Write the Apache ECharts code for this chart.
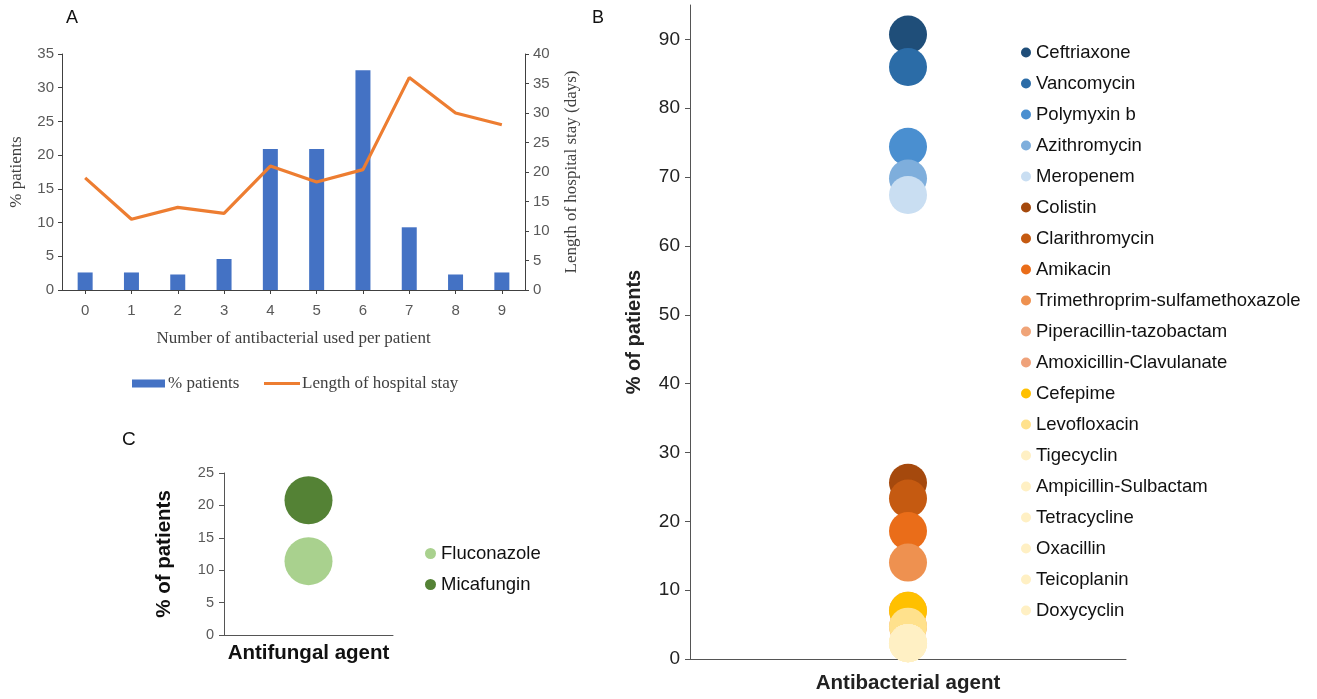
<!DOCTYPE html>
<html>
<head>
<meta charset="utf-8">
<script src="https://cdn.jsdelivr.net/npm/echarts@6/dist/echarts.min.js"></script>
<style>
html,body{margin:0;padding:0;background:#fff;}
#chart{width:1317px;height:699px;}
</style>
</head>
<body>
<div id="chart"></div>
<script>
// Panel A data
const aCategories = ['0','1','2','3','4','5','6','7','8','9'];
const aPatients = [2.6, 2.6, 2.3, 4.6, 20.9, 20.9, 32.6, 9.3, 2.3, 2.6];
const aStay = [19, 12, 14, 13, 21, 18.3, 20.4, 36, 30, 28];
const aLeftTicks = [0, 35, 5];
const aRightTicks = [0, 40, 5];

// Panel B data
const bNames = ['Ceftriaxone','Vancomycin','Polymyxin b','Azithromycin','Meropenem','Colistin','Clarithromycin','Amikacin','Trimethroprim-sulfamethoxazole','Piperacillin-tazobactam','Amoxicillin-Clavulanate','Cefepime','Levofloxacin','Tigecyclin','Ampicillin-Sulbactam','Tetracycline','Oxacillin','Teicoplanin','Doxycyclin'];
const bValues = [90.7, 86.0, 74.4, 69.8, 67.4, 25.6, 23.3, 18.6, 14.0, 7.0, 4.7, 7.0, 4.7, 2.3, 2.3, 2.3, 2.3, 2.3, 2.3];
const bColors = ['#1F4E79','#2B6CA7','#4A8FD0','#7EAEDC','#C9DEF2','#A5490D','#C55A11','#EA6D19','#EE9150','#F0A478','#EFA27A','#FFC000','#FFE18C','#FFF0C4','#FFF0C4','#FFF0C4','#FFF0C4','#FFF0C4','#FFF0C4'];
const bTickValues = [0,10,20,30,40,50,60,70,80,90];

// Panel C data
const cNames = ['Fluconazole','Micafungin'];
const cValues = [11.4, 20.8];
const cColors = ['#A9D18E','#548235'];

const chart = echarts.init(document.getElementById('chart'), null, {renderer:'canvas'});

const series = [
  {name:'% patients', type:'bar', xAxisIndex:0, yAxisIndex:0, data:aPatients, barWidth:15,
   itemStyle:{color:'#4472C4'}},
  {name:'Length of hospital stay', type:'line', xAxisIndex:0, yAxisIndex:1, data:aStay, showSymbol:false,
   symbol:'none', lineStyle:{color:'#ED7D31', width:3.2}, itemStyle:{color:'#ED7D31'}}
];
bNames.forEach((n,i)=>{
  series.push({name:n, type:'scatter', xAxisIndex:1, yAxisIndex:2, symbolSize:38,
    itemStyle:{color:bColors[i], opacity:1}, data:[['', bValues[i]]], z:2});
});
cNames.forEach((n,i)=>{
  series.push({name:n, type:'scatter', xAxisIndex:2, yAxisIndex:3, symbolSize:48,
    itemStyle:{color:cColors[i], opacity:1}, data:[['', cValues[i]]], z:2});
});

const serifTitle = {fontFamily:'Liberation Serif', fontSize:17, color:'#404040'};
const axisGrayA = {lineStyle:{color:'#404040', width:1}};
const tickFontA = {fontFamily:'Liberation Sans', fontSize:15, color:'#595959'};

const option = {
  animation:false,
  backgroundColor:'#ffffff',
  grid:[
    {left:62, top:54, width:463, height:236},
    {left:690, top:5, width:436, height:657},
    {left:224, top:473, width:169, height:162}
  ],
  xAxis:[
    {type:'category', gridIndex:0, data:aCategories, boundaryGap:true,
     axisLine:{show:true, ...axisGrayA}, axisTick:{show:true, alignWithLabel:true, length:4, lineStyle:{color:'#404040'}},
     axisLabel:{...tickFontA, margin:13},
     name:'Number of antibacterial used per patient', nameLocation:'middle', nameGap:40, nameTextStyle:serifTitle},
    {type:'category', gridIndex:1, data:[''], boundaryGap:true,
     axisLine:{show:true, lineStyle:{color:'#555555'}}, axisTick:{show:false}, axisLabel:{show:false},
     name:'Antibacterial agent', nameLocation:'middle', nameGap:14,
     nameTextStyle:{fontFamily:'Liberation Sans', fontWeight:'bold', fontSize:20.5, color:'#222222'}},
    {type:'category', gridIndex:2, data:[''], boundaryGap:true,
     axisLine:{show:true, lineStyle:{color:'#555555'}}, axisTick:{show:false}, axisLabel:{show:false},
     name:'Antifungal agent', nameLocation:'middle', nameGap:8,
     nameTextStyle:{fontFamily:'Liberation Sans', fontWeight:'bold', fontSize:20.5, color:'#111111'}}
  ],
  yAxis:[
    {type:'value', gridIndex:0, min:aLeftTicks[0], max:aLeftTicks[1], interval:aLeftTicks[2], position:'left',
     axisLine:{show:true, ...axisGrayA}, axisTick:{show:true, length:4, lineStyle:{color:'#404040'}},
     splitLine:{show:false},
     axisLabel:{...tickFontA, margin:8},
     name:'% patients', nameLocation:'middle', nameRotate:90, nameGap:37, nameTextStyle:serifTitle},
    {type:'value', gridIndex:0, min:aRightTicks[0], max:aRightTicks[1], interval:aRightTicks[2], position:'right',
     axisLine:{show:true, ...axisGrayA}, axisTick:{show:true, length:4, lineStyle:{color:'#404040'}},
     splitLine:{show:false},
     axisLabel:{...tickFontA, margin:8},
     name:'Length of hospital stay (days)', nameLocation:'middle', nameRotate:90, nameGap:38, nameTextStyle:serifTitle},
    {type:'value', gridIndex:1, min:0, max:95,
     axisLine:{show:true, lineStyle:{color:'#555555'}},
     axisTick:{show:true, length:5, customValues:bTickValues, lineStyle:{color:'#555555'}},
     splitLine:{show:false},
     axisLabel:{customValues:bTickValues, fontFamily:'Liberation Sans', fontSize:19, color:'#222222', margin:10},
     name:'% of patients', nameLocation:'middle', nameRotate:90, nameGap:46,
     nameTextStyle:{fontFamily:'Liberation Sans', fontWeight:'bold', fontSize:20, color:'#222222'}},
    {type:'value', gridIndex:2, min:0, max:25, interval:5,
     axisLine:{show:true, lineStyle:{color:'#555555'}},
     axisTick:{show:true, length:5, lineStyle:{color:'#555555'}},
     splitLine:{show:false},
     axisLabel:{fontFamily:'Liberation Sans', fontSize:14.5, color:'#595959', margin:10},
     name:'% of patients', nameLocation:'middle', nameRotate:90, nameGap:49,
     nameTextStyle:{fontFamily:'Liberation Sans', fontWeight:'bold', fontSize:20.5, color:'#111111'}}
  ],
  legend:[
    {data:[{name:'% patients', icon:'rect'}], left:132, top:375, orient:'horizontal', padding:0,
     itemWidth:33, itemHeight:8,
     textStyle:{fontFamily:'Liberation Serif', fontSize:17, color:'#404040', padding:[0,0,0,-2]}},
    {data:[{name:'Length of hospital stay', icon:'rect'}], left:264, top:375, orient:'horizontal', padding:0,
     itemWidth:36, itemHeight:3,
     textStyle:{fontFamily:'Liberation Serif', fontSize:17, color:'#404040', padding:[0,0,0,-3]}},
    {data:bNames.map((n,i)=>({name:n, icon:'circle', itemStyle:{color:bColors[i]}})), left:1021, top:42, orient:'vertical',
     itemWidth:10, itemHeight:10, itemGap:10, padding:0,
     textStyle:{fontFamily:'Liberation Sans', fontSize:18.5, color:'#111111', lineHeight:21}},
    {data:cNames.map((n,i)=>({name:n, icon:'circle', itemStyle:{color:cColors[i]}})), left:425, top:543, orient:'vertical',
     itemWidth:11, itemHeight:11, itemGap:10, padding:0,
     textStyle:{fontFamily:'Liberation Sans', fontSize:18.5, color:'#111111', lineHeight:21}}
  ],
  graphic:[
    {type:'text', left:66, top:9, style:{text:'A', fontFamily:'Liberation Sans', fontSize:18, fill:'#111111'}},
    {type:'text', left:592, top:9, style:{text:'B', fontFamily:'Liberation Sans', fontSize:18, fill:'#111111'}},
    {type:'text', left:122, top:430, style:{text:'C', fontFamily:'Liberation Sans', fontSize:19, fill:'#111111'}}
  ],
  series:series
};
chart.setOption(option);
</script>
</body>
</html>
